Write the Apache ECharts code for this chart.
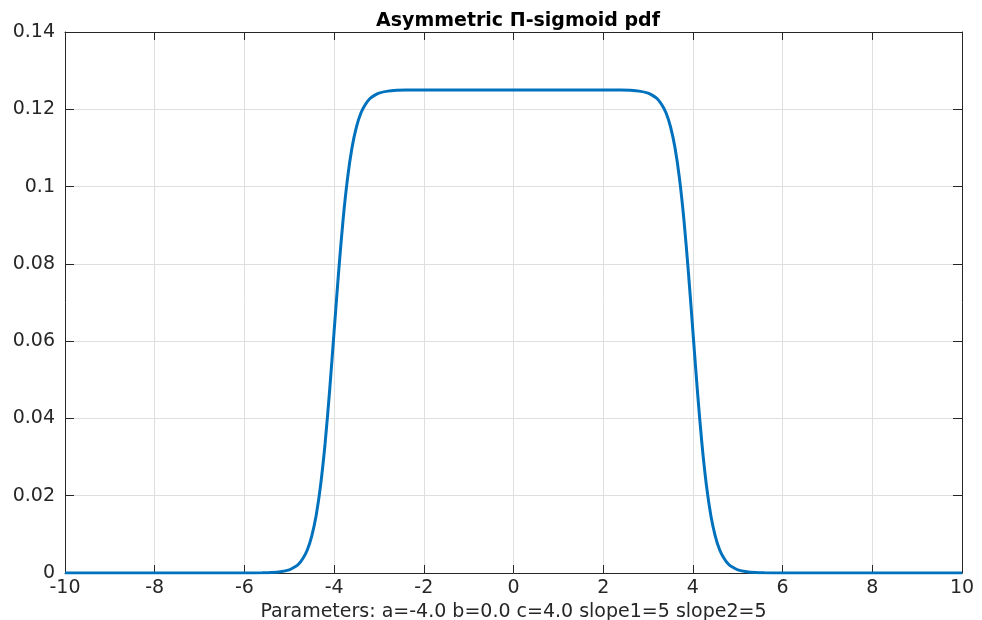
<!DOCTYPE html>
<html>
<head>
<meta charset="utf-8">
<script src="https://cdn.jsdelivr.net/npm/echarts@6/dist/echarts.min.js"></script>
<style>
  html, body { margin: 0; padding: 0; background: #fff; }
  #chart { width: 982px; height: 620px; }
</style>
</head>
<body>
<div id="chart"></div>
<script>
// x positions and pdf values
const xValues = [
  -10, -8, -6, -5.6, -5.4, -5.2, -5.0, -4.9, -4.8, -4.7, -4.6, -4.5, -4.4, -4.3, -4.2, -4.1,
  -4.0, -3.9, -3.8, -3.7, -3.6, -3.5, -3.4, -3.3, -3.2, -3.1, -3.0, -2.8, -2.6, -2.4, -2, 0,
  2, 2.4, 2.6, 2.8, 3.0, 3.1, 3.2, 3.3, 3.4, 3.5, 3.6, 3.7, 3.8, 3.9, 4.0,
  4.1, 4.2, 4.3, 4.4, 4.5, 4.6, 4.7, 4.8, 4.9, 5.0, 5.2, 5.4, 5.6, 6, 8, 10
];
const pdfValues = [
  0, 0, 0.00001, 0.00004, 0.0001, 0.0003, 0.0008, 0.0014, 0.0022, 0.0037, 0.0059, 0.0095, 0.0149, 0.0228, 0.0336, 0.0472,
  0.0625, 0.0778, 0.0914, 0.1022, 0.1101, 0.1155, 0.1191, 0.1213, 0.1228, 0.1236, 0.1242, 0.1247, 0.1249, 0.1250, 0.125, 0.125,
  0.125, 0.1250, 0.1249, 0.1247, 0.1242, 0.1236, 0.1228, 0.1213, 0.1191, 0.1155, 0.1101, 0.1022, 0.0914, 0.0778, 0.0625,
  0.0472, 0.0336, 0.0228, 0.0149, 0.0095, 0.0059, 0.0037, 0.0022, 0.0014, 0.0008, 0.0003, 0.0001, 0.00004, 0.00001, 0, 0
];
const titleText = "Asymmetric \u03a0-sigmoid pdf";
const xLabel = "Parameters: a=-4.0 b=0.0 c=4.0 slope1=5 slope2=5";

const chart = echarts.init(document.getElementById("chart"));
const txt = "#262626";
const font = "DejaVu Sans";

const xCommon = {
  type: "value",
  min: -10,
  max: 10,
  interval: 2,
  axisLine: { show: true, onZero: false, lineStyle: { color: txt, width: 1 } },
  axisTick: { show: true, inside: true, length: 8, lineStyle: { color: txt } },
  splitLine: { show: false }
};
const yCommon = {
  type: "value",
  min: 0,
  max: 0.14,
  interval: 0.02,
  axisLine: { show: true, onZero: false, lineStyle: { color: txt, width: 1 } },
  axisTick: { show: true, inside: true, length: 9, lineStyle: { color: txt } },
  splitLine: { show: false }
};

chart.setOption({
  animation: false,
  backgroundColor: "#fff",
  title: {
    text: titleText,
    left: 513,
    textAlign: "center",
    top: 7,
    textStyle: { fontFamily: font, fontSize: 19, fontWeight: "bold", color: "#000" }
  },
  grid: { left: 65, right: 20, top: 32, bottom: 47, outerBoundsMode: "none", containLabel: false },
  xAxis: [
    Object.assign({}, xCommon, {
      position: "bottom",
      name: xLabel,
      nameLocation: "middle",
      nameGap: 27,
      nameTextStyle: { fontFamily: font, fontSize: 19, color: txt },
      axisLabel: { fontFamily: font, fontSize: 19, color: txt, margin: 6 },
      splitLine: { show: true, lineStyle: { color: "#dfdfdf", width: 1 } }
    }),
    Object.assign({}, xCommon, { position: "top", axisLabel: { show: false } })
  ],
  yAxis: [
    Object.assign({}, yCommon, {
      position: "left",
      axisLabel: { fontFamily: font, fontSize: 19, color: txt, margin: 10 },
      splitLine: { show: true, lineStyle: { color: "#dfdfdf", width: 1 } }
    }),
    Object.assign({}, yCommon, { position: "right", axisLabel: { show: false } })
  ],
  series: [
    {
      type: "line",
      data: xValues.map((x, i) => [x, pdfValues[i]]),
      showSymbol: false,
      smooth: 0.25,
      lineStyle: { color: "#0072BD", width: 3 },
      z: 5
    }
  ]
});
</script>
</body>
</html>
